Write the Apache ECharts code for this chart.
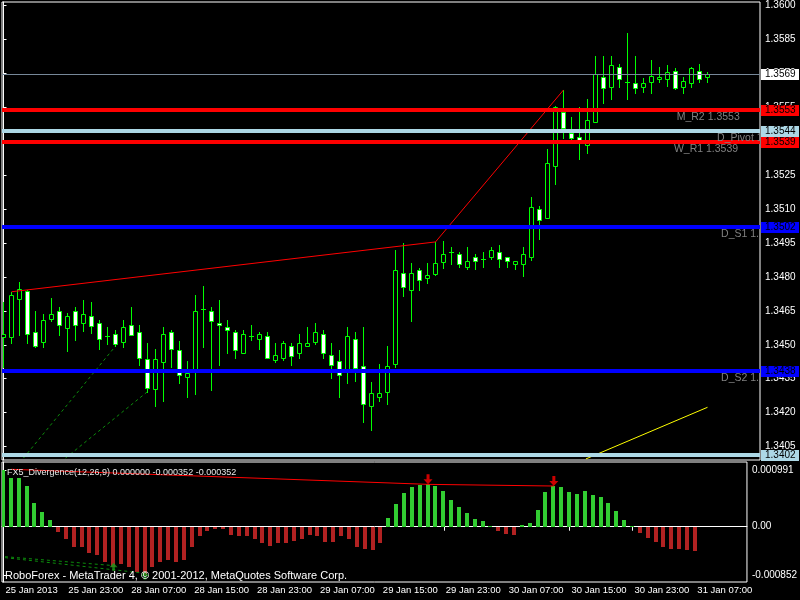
<!DOCTYPE html>
<html><head><meta charset="utf-8">
<script src="https://cdn.jsdelivr.net/npm/echarts@6/dist/echarts.min.js"></script>
<style>html,body{margin:0;padding:0;background:#000;}#c{width:800px;height:600px;}</style>
</head><body><div id="c"></div>
<script>
// ---------- DATA (EURUSD H1, 25 Jan 2013 15:00 .. 31 Jan 2013 07:00) ----------
const barOpen = [1.34536,1.34536,1.34703,1.34737,1.34555,1.34513,1.34615,1.34648,1.34575,1.34648,
1.34595,1.34626,1.34595,1.34537,1.34546,1.34513,1.34586,1.34556,1.34436,1.34303,
1.34425,1.34556,1.34475,1.34356,1.34394,1.34657,1.34648,1.34595,1.34577,1.34556,
1.34465,1.34537,1.34524,1.34537,1.34434,1.34443,1.34493,1.34465,1.34493,1.34513,
1.34546,1.34453,1.34427,1.34380,1.34524,1.34405,1.34231,1.34271,1.34293,1.34414,
1.34815,1.34743,1.34829,1.34796,1.34814,1.34865,1.34908,1.34899,1.34845,1.34886,
1.34877,1.34886,1.34908,1.34886,1.34858,1.34858,1.34886,1.35098,1.35058,1.35291,
1.35529,1.35434,1.35419,1.35382,1.35482,1.35683,1.35639,1.35725,1.35661,1.35654,
1.35639,1.35661,1.35672,1.35672,1.35710,1.35639,1.35654,1.35710,1.35683];
const barHigh = [1.34690,1.34734,1.34776,1.34742,1.34649,1.34636,1.34706,1.34667,1.34639,1.34667,
1.34698,1.34689,1.34609,1.34578,1.34565,1.34609,1.34667,1.34587,1.34508,1.34480,
1.34578,1.34565,1.34517,1.34428,1.34720,1.34759,1.34667,1.34698,1.34609,1.34565,
1.34565,1.34587,1.34556,1.34556,1.34508,1.34517,1.34506,1.34547,1.34578,1.34596,
1.34565,1.34508,1.34477,1.34578,1.34556,1.34578,1.34336,1.34414,1.34494,1.34918,
1.34948,1.34860,1.34838,1.34860,1.34954,1.34958,1.34932,1.34909,1.34932,1.34899,
1.34909,1.34932,1.34940,1.34888,1.34870,1.34932,1.35151,1.35113,1.35363,1.35554,
1.35625,1.35504,1.35548,1.35584,1.35775,1.35775,1.35775,1.35738,1.35875,1.35775,
1.35676,1.35757,1.35725,1.35734,1.35722,1.35683,1.35725,1.35738,1.35705];
const barLow = [1.34403,1.34506,1.34543,1.34506,1.34491,1.34491,1.34606,1.34543,1.34472,1.34521,
1.34561,1.34553,1.34481,1.34503,1.34494,1.34490,1.34543,1.34411,1.34293,1.34231,
1.34253,1.34403,1.34332,1.34271,1.34283,1.34491,1.34300,1.34411,1.34465,1.34443,
1.34465,1.34522,1.34481,1.34442,1.34425,1.34433,1.34411,1.34443,1.34493,1.34505,
1.34443,1.34355,1.34271,1.34332,1.34341,1.34159,1.34124,1.34253,1.34240,1.34403,
1.34717,1.34606,1.34743,1.34774,1.34807,1.34838,1.34855,1.34843,1.34834,1.34834,
1.34843,1.34877,1.34843,1.34843,1.34834,1.34805,1.34874,1.34968,1.35058,1.35210,
1.35411,1.35404,1.35319,1.35348,1.35482,1.35569,1.35584,1.35639,1.35584,1.35613,
1.35617,1.35613,1.35661,1.35642,1.35630,1.35613,1.35639,1.35661,1.35661];
const barClose = [1.34547,1.34720,1.34745,1.34546,1.34493,1.34609,1.34634,1.34586,1.34626,1.34586,
1.34634,1.34584,1.34524,1.34537,1.34505,1.34577,1.34544,1.34443,1.34310,1.34436,
1.34546,1.34483,1.34365,1.34374,1.34648,1.34657,1.34606,1.34586,1.34564,1.34475,
1.34546,1.34537,1.34546,1.34443,1.34453,1.34506,1.34452,1.34506,1.34506,1.34555,
1.34465,1.34412,1.34365,1.34537,1.34396,1.34240,1.34286,1.34286,1.34405,1.34829,
1.34756,1.34815,1.34787,1.34807,1.34860,1.34899,1.34908,1.34858,1.34868,1.34868,
1.34877,1.34917,1.34877,1.34868,1.34868,1.34899,1.35109,1.35049,1.35301,1.35551,
1.35456,1.35411,1.35404,1.35492,1.35694,1.35632,1.35734,1.35672,1.35661,1.35632,
1.35654,1.35687,1.35683,1.35704,1.35632,1.35664,1.35722,1.35672,1.35695];

// FX5_Divergence histogram
const divHist = [0.000991,0.000845,0.000845,0.000711,0.000419,0.000250,0.000117,-0.000087,-0.000216,-0.000361,
-0.000361,-0.000454,-0.000495,-0.000612,-0.000699,-0.000652,-0.000711,-0.000798,-0.000852,-0.000699,
-0.000623,-0.000583,-0.000612,-0.000583,-0.000350,-0.000163,-0.000070,-0.000041,-0.000041,-0.000140,
-0.000163,-0.000157,-0.000216,-0.000280,-0.000332,-0.000291,-0.000291,-0.000250,-0.000216,-0.000140,
-0.000163,-0.000262,-0.000262,-0.000163,-0.000216,-0.000361,-0.000390,-0.000408,-0.000280,0.000146,
0.000396,0.000588,0.000699,0.000728,0.000740,0.000711,0.000623,0.000466,0.000344,0.000245,
0.000134,0.000099,0.000012,-0.000076,-0.000122,-0.000146,0.000029,0.000070,0.000291,0.000612,
0.000711,0.000699,0.000606,0.000577,0.000623,0.000559,0.000524,0.000408,0.000274,0.000117,
0.000010,-0.000105,-0.000192,-0.000262,-0.000350,-0.000396,-0.000390,-0.000408,-0.000419];

// pivot / level lines
const levelPrices = [1.35695, 1.35535, 1.35445, 1.35394, 1.35019, 1.34383, 1.34015];
const levelTags   = ['1.3569','1.3553','1.3544','1.3539','1.3502','1.3438','1.3402'];
const pivotNames  = ['M_R2 1.3553','D_Pivot 1.3544','W_R1 1.3539','D_S1 1.3502','D_S2 1.3438'];
const pivotPrices = [1.35535, 1.35445, 1.35394, 1.35019, 1.34383];
const pivotBars   = [84.15, 89.2, 83.8, 89.7, 89.7];

// divergence lines (bar index, value)
const priceBearLine = [[1, 1.34734], [54, 1.34954], [70, 1.35625]];
const priceBullLine1 = [[2.5, 1.34000], [14, 1.34494]];
const priceBullLine2 = [[7.76, 1.34000], [18, 1.34293]];
const yellowLine = [[72.8, 1.33996], [88, 1.34224]];
const oscBearLine = [[1, 0.001003], [54, 0.000740], [70, 0.000711]];
const oscBullLine1 = [[0.2, -0.000524], [14, -0.000680]];
const oscBullLine2 = [[0.2, -0.000541], [18, -0.000814]];
const sellArrows = [[54, 0.000740], [70, 0.000711]];
const buyArrows = [[14, -0.000699], [18, -0.000852]];

// axes
const priceTicks = [1.3600,1.3585,1.3570,1.3555,1.3540,1.3525,1.3510,1.3495,1.3480,1.3465,1.3450,1.3435,1.3420,1.3405];
const oscTicks = [0.000991, 0, -0.000852];
const oscTickLabels = ['0.000991', '0.00', '-0.000852'];
const timeTickBars = [0, 8, 16, 24, 32, 40, 48, 56, 64, 72, 80, 88];
const timeTickLabels = ['25 Jan 2013','25 Jan 23:00','28 Jan 07:00','28 Jan 15:00','28 Jan 23:00','29 Jan 07:00',
  '29 Jan 15:00','29 Jan 23:00','30 Jan 07:00','30 Jan 15:00','30 Jan 23:00','31 Jan 07:00'];
const indicatorTitle = 'FX5_Divergence(12,26,9) 0.000000 -0.000352 -0.000352';
const copyright = 'RoboForex - MetaTrader 4, \u00a9 2001-2012, MetaQuotes Software Corp.';

// ---------- STYLE ----------
const FONT = '"Liberation Sans", Arial, sans-serif';
const WICK = '#00ff00';
const levelColors = ['#778899', '#ff0000', '#add8e6', '#ff0000', '#0000ff', '#0000ff', '#add8e6'];
const levelWidths = [1, 4, 4, 4, 4, 4, 4];
const tagFill = ['#ffffff', '#ff0000', '#add8e6', '#ff0000', '#0000ff', '#0000ff', '#add8e6'];
const X_MIN = -0.1875, X_MAX = 94.5625;
const Y_MAX = 1.3600 + 3 / 22651, Y_MIN = Y_MAX - 458 / 22651;
const O_MAX = 64.7 / 57220, O_MIN = O_MAX - 120 / 57220;

const candleData = barOpen.map((o, i) => [i, o, barHigh[i], barLow[i], barClose[i]]);
const histData = divHist.map((v, i) => [i, v]);

function renderCandle(params, api) {
  const i = api.value(0), o = api.value(1), h = api.value(2), l = api.value(3), c = api.value(4);
  const po = api.coord([i, o]), pc = api.coord([i, c]), ph = api.coord([i, h]), pl = api.coord([i, l]);
  const cx = Math.floor(po[0] + 0.01) + 0.5;
  const yTop = Math.round(Math.min(po[1], pc[1])) + 0.5;
  const yBot = Math.round(Math.max(po[1], pc[1])) + 0.5;
  const yH = Math.round(ph[1]), yL = Math.round(pl[1]) + 1;
  const children = [{type: 'line', shape: {x1: cx, y1: yH, x2: cx, y2: yL}, style: {stroke: WICK, lineWidth: 1}}];
  if (yBot - yTop < 1) {
    children.push({type: 'line', shape: {x1: cx - 2.5, y1: yTop, x2: cx + 2.5, y2: yTop}, style: {stroke: WICK, lineWidth: 1}});
  } else {
    children.push({type: 'rect', shape: {x: cx - 2, y: yTop, width: 4, height: yBot - yTop},
      style: {fill: c < o ? '#ffffff' : '#000000', stroke: WICK, lineWidth: 1}});
  }
  return {type: 'group', children};
}
function renderHist(params, api) {
  const i = api.value(0), v = api.value(1);
  const p0 = api.coord([i, 0]), p1 = api.coord([i, v]);
  const x = Math.floor(p0[0] + 0.01) - 2;
  const y0 = Math.round(p0[1]), y1 = Math.round(p1[1]);
  return {type: 'rect', shape: {x: x, y: Math.min(y0, y1), width: 4, height: Math.max(1, Math.abs(y1 - y0))},
    style: {fill: v >= 0 ? '#32cd32' : '#b22222'}};
}
function renderLevel(params, api) {
  const k = api.value(0), p = api.value(1);
  const cs = params.coordSys;
  const y = api.coord([0, p])[1];
  const w = levelWidths[k];
  const yr = Math.round(y);
  return {type: 'group', children: [
    {type: 'rect', shape: {x: cs.x, y: w === 1 ? yr : yr - w / 2, width: cs.width, height: w}, style: {fill: levelColors[k]}},
    {type: 'rect', shape: {x: cs.x + cs.width + 1, y: yr - 5, width: 38, height: 11}, style: {fill: tagFill[k]}},
    {type: 'text', x: cs.x + cs.width + 5, y: yr + 0.5,
      style: {text: levelTags[k], fill: '#000', font: '10px ' + FONT, verticalAlign: 'middle', align: 'left'}}
  ]};
}
function renderPivotText(params, api) {
  const k = api.value(0);
  const pt = api.coord([pivotBars[k], pivotPrices[k]]);
  return {type: 'text', x: pt[0], y: Math.round(pt[1]) + 7.5,
    style: {text: pivotNames[k], fill: '#808080', font: '10.5px ' + FONT, verticalAlign: 'middle', align: 'left'}};
}

const option = {
  backgroundColor: '#000',
  animation: false,
  grid: [
    {left: 2, top: 2, width: 758, height: 458, show: true, borderColor: '#fff', borderWidth: 1},
    {left: 2, top: 462, width: 758, height: 120, show: true, borderColor: '#fff', borderWidth: 1}
  ],
  xAxis: [
    {gridIndex: 0, type: 'value', min: X_MIN, max: X_MAX, show: false},
    {gridIndex: 1, type: 'value', min: X_MIN, max: X_MAX, splitLine: {show: false},
      axisLine: {show: true, lineStyle: {color: '#fff'}},
      axisTick: {show: true, length: 4, customValues: timeTickBars, lineStyle: {color: '#fff'}},
      axisLabel: {customValues: timeTickBars, color: '#fff', fontSize: 9.5, fontFamily: FONT, align: 'left', margin: 3,
        padding: [0, 0, 0, 2], formatter: v => timeTickLabels[timeTickBars.indexOf(Math.round(v))] || ''}}
  ],
  yAxis: [
    {gridIndex: 0, type: 'value', position: 'right', min: Y_MIN, max: Y_MAX, splitLine: {show: false},
      axisLine: {show: true, lineStyle: {color: '#fff'}},
      axisTick: {show: true, length: 3, customValues: priceTicks, lineStyle: {color: '#fff'}},
      axisLabel: {customValues: priceTicks, color: '#fff', fontSize: 10, fontFamily: FONT, margin: 5,
        formatter: v => v.toFixed(4)}},
    {gridIndex: 1, type: 'value', position: 'right', min: O_MIN, max: O_MAX, splitLine: {show: false},
      axisLine: {show: true, lineStyle: {color: '#fff'}},
      axisTick: {show: true, length: 3, customValues: oscTicks, lineStyle: {color: '#fff'}},
      axisLabel: {customValues: oscTicks, color: '#fff', fontSize: 10, fontFamily: FONT, margin: 5,
        formatter: v => oscTickLabels[oscTicks.findIndex(t => Math.abs(t - v) < 1e-7)] || ''}}
  ],
  series: [
    {type: 'line', xAxisIndex: 0, yAxisIndex: 0, data: priceBullLine1, symbol: 'none', z: 1,
      lineStyle: {color: '#0c8c0c', width: 1, type: [3, 3]}},
    {type: 'line', xAxisIndex: 0, yAxisIndex: 0, data: priceBullLine2, symbol: 'none', z: 1,
      lineStyle: {color: '#0c8c0c', width: 1, type: [3, 3]}},
    {type: 'custom', xAxisIndex: 0, yAxisIndex: 0, data: candleData, renderItem: renderCandle, clip: true, z: 2,
      encode: {x: 0, y: [1, 2, 3, 4]}},
    {type: 'line', xAxisIndex: 0, yAxisIndex: 0, data: priceBearLine, symbol: 'none', z: 3,
      lineStyle: {color: '#ff0000', width: 1}},
    {type: 'line', xAxisIndex: 0, yAxisIndex: 0, data: yellowLine, symbol: 'none', z: 3,
      lineStyle: {color: '#ffff00', width: 1}},
    {type: 'custom', xAxisIndex: 0, yAxisIndex: 0, data: levelPrices.map((p, k) => [k, p]), renderItem: renderLevel,
      clip: false, z: 4, encode: {x: 0, y: 1}},
    {type: 'custom', xAxisIndex: 0, yAxisIndex: 0, data: pivotNames.map((n, k) => [k, pivotPrices[k]]),
      renderItem: renderPivotText, clip: true, z: 5, encode: {x: 0, y: 1}},
    // indicator window
    {type: 'custom', xAxisIndex: 1, yAxisIndex: 1, data: histData, renderItem: renderHist, clip: true, z: 2,
      encode: {x: 0, y: 1}},
    {type: 'line', xAxisIndex: 1, yAxisIndex: 1, data: oscBearLine, symbol: 'none', z: 3,
      lineStyle: {color: '#ff0000', width: 1}},
    {type: 'line', xAxisIndex: 1, yAxisIndex: 1, data: oscBullLine1, symbol: 'none', z: 3,
      lineStyle: {color: '#0c8c0c', width: 1, type: [3, 3]}},
    {type: 'line', xAxisIndex: 1, yAxisIndex: 1, data: oscBullLine2, symbol: 'none', z: 3,
      lineStyle: {color: '#0c8c0c', width: 1, type: [3, 3]}},
    {type: 'scatter', xAxisIndex: 1, yAxisIndex: 1, data: sellArrows, z: 4,
      symbol: 'path://M3,0 L6,0 L6,5 L9,5 L4.5,10 L0,5 L3,5 Z', symbolSize: [9, 10], symbolOffset: [0, '-50%'],
      itemStyle: {color: '#ff0000'}},
    {type: 'scatter', xAxisIndex: 1, yAxisIndex: 1, data: buyArrows, z: 4,
      symbol: 'path://M4.5,0 L9,5 L6,5 L6,9 L3,9 L3,5 L0,5 Z', symbolSize: [8, 8],
      itemStyle: {color: '#1a9a1a'}}
  ],
  graphic: [
    {type: 'text', x: 7, y: 473, z: 100, silent: true,
      style: {text: indicatorTitle, fill: '#e8e8e8', font: '9px ' + FONT, verticalAlign: 'middle'}},
    {type: 'text', x: 5, y: 575.5, z: 100, silent: true,
      style: {text: copyright, fill: '#ffffff', font: '11px ' + FONT, verticalAlign: 'middle'}}
  ]
};
const chart = echarts.init(document.getElementById('c'), null, {renderer: 'canvas', width: 800, height: 600});
chart.setOption(option);
</script>
</body></html>
